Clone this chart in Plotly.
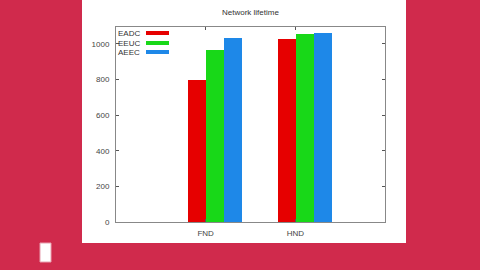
import plotly.graph_objects as go

categories = ["FND", "HND"]
series_names = ["EADC", "EEUC", "AEEC"]
eadc = [795, 1025]
eeuc = [965, 1053]
aeec = [1035, 1062]
y_ticks = [0, 200, 400, 600, 800, 1000]

colors = ["#E60000", "#18D818", "#1E88E8"]
values = [eadc, eeuc, aeec]
bar_w = 0.2
offsets = [-0.092, 0.108, 0.308]

fig = go.Figure()
cat_pos = [i + 1 for i in range(len(categories))]
for name, vals, col, off in zip(series_names, values, colors, offsets):
    fig.add_trace(go.Bar(
        x=[p + off for p in cat_pos], y=vals, width=bar_w, name=name,
        marker=dict(color=col, line=dict(width=0)), showlegend=False,
    ))

W, H = 480, 270
L, R, T, B = 116, 385, 27, 222
pw, ph = R - L, B - T

def px(x):
    return (x - L) / pw

def py(y):
    return (B - y) / ph

shapes = [
    dict(type="rect", xref="paper", yref="paper", x0=px(82), x1=px(406), y0=py(243), y1=py(0),
         fillcolor="white", line=dict(width=0), layer="below"),
    dict(type="rect", xref="paper", yref="paper", x0=px(40), x1=px(51), y0=py(262), y1=py(243),
         fillcolor="white", line=dict(width=1, color="#E8A0B0"), layer="below"),
]
annotations = [
    dict(text="Network lifetime", xref="paper", yref="paper", x=0.5, y=py(12), showarrow=False,
         font=dict(size=8, color="#333", family="Liberation Sans"), xanchor="center", yanchor="middle"),
]
leg_y = [33, 43, 52]
for name, col, ly in zip(series_names, colors, leg_y):
    annotations.append(dict(text=name, xref="paper", yref="paper", x=px(116), y=py(ly), showarrow=False,
                            xanchor="left", yanchor="middle",
                            font=dict(size=8, color="#333", family="Liberation Sans")))
    shapes.append(dict(type="line", xref="paper", yref="paper", x0=px(146), x1=px(169), y0=py(ly), y1=py(ly),
                       line=dict(color=col, width=4)))

fig.update_layout(
    width=W, height=H,
    margin=dict(l=L, r=W - R, t=T, b=H - B, pad=0),
    paper_bgcolor="#D02A4C", plot_bgcolor="white",
    bargap=0, barmode="overlay",
    shapes=shapes, annotations=annotations,
    font=dict(family="Liberation Sans", size=8, color="#444"),
    xaxis=dict(range=[0, 3], tickvals=cat_pos, ticktext=categories, ticks="inside", ticklen=3,
               tickcolor="#555", showline=True, linecolor="#888", linewidth=1, mirror="ticks",
               showgrid=False, zeroline=False, tickfont=dict(size=8, color="#444"),
               ticklabelstandoff=3),
    yaxis=dict(range=[0, 1095], tickvals=y_ticks, ticks="inside", ticklen=3, tickcolor="#555",
               showline=True, linecolor="#888", linewidth=1, mirror="ticks", showgrid=False,
               zeroline=False, tickfont=dict(size=8, color="#444"), ticklabelstandoff=4),
)

fig.write_html("out.html")
